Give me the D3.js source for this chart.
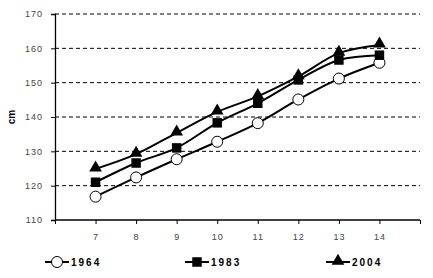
<!DOCTYPE html>
<html>
<head>
<meta charset="utf-8">
<script src="https://cdn.jsdelivr.net/npm/d3@7"></script>
<style>
  body { margin: 0; background: #fff; }
  svg { display: block; font-family: Arial, "Liberation Sans", sans-serif; }
</style>
</head>
<body>
<div id="chart"></div>
<script>
'use strict';

const ages = [7, 8, 9, 10, 11, 12, 13, 14];
const h1964 = [116.8, 122.4, 127.7, 132.8, 138.2, 145.1, 151.2, 155.8];
const h1983 = [121.0, 126.6, 131.0, 138.3, 144.0, 150.8, 156.6, 158.0];
const h2004 = [124.9, 129.2, 135.4, 141.5, 146.0, 151.8, 158.6, 161.0];
const yTicks = [110, 120, 130, 140, 150, 160, 170];
const seriesNames = ["1964", "1983", "2004"];

const width = 433, height = 278;
const margin = {top: 14, right: 13, bottom: 58, left: 55};

let svg = d3.select("#chart").append("svg")
    .attr("width", width)
    .attr("height", height);

let x = d3.scaleLinear()
    .domain([6, 15])
    .range([margin.left, width - margin.right]);

let y = d3.scaleLinear()
    .domain([110, 170])
    .range([height - margin.bottom, margin.top]);

// dashed gridlines
svg.append("g")
    .selectAll("line")
    .data(yTicks.filter(t => t > 110))
    .join("line")
    .attr("x1", margin.left)
    .attr("x2", width - margin.right)
    .attr("y1", d => y(d))
    .attr("y2", d => y(d))
    .attr("stroke", "#000")
    .attr("stroke-width", 1)
    .attr("stroke-dasharray", "4,3");

// y axis
svg.append("g")
    .attr("transform", `translate(${margin.left},0)`)
    .call(d3.axisLeft(y).tickValues(yTicks).tickSize(4).tickFormat(d3.format("d")))
    .call(g => g.select(".domain").attr("stroke", "#000").attr("stroke-width", 1.3))
    .call(g => g.selectAll(".tick line").attr("stroke", "#000"))
    .call(g => g.selectAll("text")
        .attr("x", -12)
        .attr("fill", "#444")
        .style("font-size", "9px")
        .style("letter-spacing", "1px"));

// x axis
svg.append("g")
    .attr("transform", `translate(0,${y(110)})`)
    .call(d3.axisBottom(x).tickValues(d3.range(6, 16)).tickSize(4)
        .tickFormat(d => ages.includes(d) ? d : ""))
    .call(g => g.select(".domain").attr("stroke", "#000").attr("stroke-width", 1.3)
        .attr("d", `M${x(6)},0H${x(15)}`))
    .call(g => g.selectAll(".tick line").attr("stroke", "#000"))
    .call(g => g.selectAll("text")
        .attr("y", 14)
        .attr("fill", "#444")
        .style("font-size", "9px")
        .style("letter-spacing", "1px"));

// y title
svg.append("text")
    .attr("transform", `translate(15,${y(140)}) rotate(-90)`)
    .attr("text-anchor", "middle")
    .style("font-size", "10px")
    .style("font-weight", "bold")
    .text("cm");

let series = [h1964, h1983, h2004].map((vals, i) => ({
    name: seriesNames[i],
    values: ages.map((a, j) => ({age: a, h: vals[j]}))
}));

let line = d3.line()
    .x(d => x(d.age))
    .y(d => y(d.h))
    .curve(d3.curveCatmullRom.alpha(0.5));

let tri = d3.symbol().type(d3.symbolTriangle).size(70);
let sq = d3.symbol().type(d3.symbolSquare).size(90);

function drawMarker(g, idx) {
    if (idx === 0) {
        g.append("circle").attr("r", 5.5).attr("fill", "#fff")
            .attr("stroke", "#000").attr("stroke-width", 1);
    } else if (idx === 1) {
        g.append("path").attr("d", sq).attr("fill", "#000");
    } else {
        g.append("path").attr("d", tri).attr("fill", "#000")
            .attr("transform", "translate(0,-1)");
    }
}

series.forEach((s, i) => {
    svg.append("path")
        .datum(s.values)
        .attr("fill", "none")
        .attr("stroke", "#000")
        .attr("stroke-width", 2)
        .attr("d", line);
});

series.forEach((s, i) => {
    svg.append("g")
        .selectAll("g")
        .data(s.values)
        .join("g")
        .attr("transform", d => `translate(${x(d.age)},${y(d.h)})`)
        .each(function() { drawMarker(d3.select(this), i); });
});

// legend
const legendX = [45, 185, 326];
const legendY = 262;
series.forEach((s, i) => {
    let g = svg.append("g").attr("transform", `translate(${legendX[i]},${legendY})`);
    g.append("line").attr("x1", 0).attr("x2", 24).attr("y1", 0).attr("y2", 0)
        .attr("stroke", "#000").attr("stroke-width", 2);
    let m = g.append("g").attr("transform", "translate(12,0)");
    drawMarker(m, i);
    g.append("text")
        .attr("x", 26)
        .attr("y", 4)
        .style("font-size", "10px")
        .style("font-weight", "bold")
        .style("letter-spacing", "2px")
        .text(s.name);
});
</script>
</body>
</html>
